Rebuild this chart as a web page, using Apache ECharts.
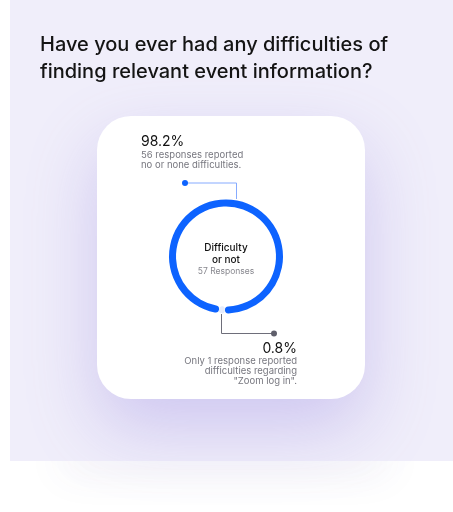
<!DOCTYPE html>
<html><head><meta charset="utf-8">
<script src="https://cdn.jsdelivr.net/npm/echarts@6/dist/echarts.min.js"></script>
<style>html,body{margin:0;padding:0;background:#fff}#c{width:453px;height:512px}</style>
</head><body><div id="c"></div>
<script>
const titleLines = ['Have you ever had any difficulties of', 'finding relevant event information?'];
const categories = ['No or none difficulties', 'Difficulty ("Zoom log in")'];
const responses = [56, 1];
const percentLabels = ['98.2%', '0.8%'];
const topNote = ['56 responses reported', 'no or none difficulties.'];
const bottomNote = ['Only 1 response reported', 'difficulties regarding', '"Zoom log in".'];
const centerTitle = ['Difficulty', 'or not'];
const centerSub = '57 Responses';

const chart = echarts.init(document.getElementById('c'), null, {renderer: 'canvas'});
const F = 'Inter, "Noto Sans", sans-serif';
function txt(t, x, y, font, fill, align) {
  return {type: 'text', z: 6, style: {text: t, x: x, y: y, font: font + ' ' + F, fill: fill, align: align || 'left', verticalAlign: 'middle'}};
}
const g = [
  {type: 'rect', z: -20, shape: {x: 60, y: 440, width: 330, height: 20, r: 10},
    style: {fill: 'rgba(255,255,255,1)', shadowBlur: 40, shadowColor: 'rgba(90,80,140,0.10)', shadowOffsetY: 10}},
  {type: 'rect', z: -10, shape: {x: 10, y: 0, width: 443, height: 461}, style: {fill: '#f0eefa'}},
  {type: 'rect', z: -5, shape: {x: 97, y: 116, width: 268, height: 283, r: 34},
    style: {fill: '#ffffff', shadowBlur: 70, shadowColor: 'rgba(130,110,220,0.30)', shadowOffsetY: 30}},
  {type: 'polyline', z: 5, shape: {points: [[185, 183], [236.5, 183], [236.5, 199]]},
    style: {stroke: '#86abff', lineWidth: 1, fill: null}},
  {type: 'circle', z: 6, shape: {cx: 185, cy: 183, r: 3}, style: {fill: '#0d63ff'}},
  {type: 'polyline', z: 5, shape: {points: [[221.5, 314], [221.5, 333.5], [274, 333.5]]},
    style: {stroke: '#6e6e7a', lineWidth: 1, fill: null}},
  {type: 'circle', z: 6, shape: {cx: 274, cy: 333.5, r: 3}, style: {fill: '#5f5f6b'}}
];
titleLines.forEach((t, i) => g.push(txt(t, 40, 45 + i * 26.7, '500 20px', '#141414')));
g.push(txt(percentLabels[0], 141, 142, '400 14px', '#111'));
topNote.forEach((t, i) => g.push(txt(t, 141, 155 + i * 10.3, '400 9.5px', '#77777f')));
g.push(txt(percentLabels[1], 297, 349, '400 14px', '#111', 'right'));
bottomNote.forEach((t, i) => g.push(txt(t, 297, 361.5 + i * 10, '400 9.5px', '#77777f', 'right')));
centerTitle.forEach((t, i) => g.push(txt(t, 226, 248.3 + i * 11.7, '500 10px', '#111', 'center')));
g.push(txt(centerSub, 226, 271, '400 8.5px', '#88888f', 'center'));

chart.setOption({
  backgroundColor: '#ffffff',
  animation: false,
  graphic: g,
  series: [{
    type: 'pie',
    center: [226, 256.5],
    radius: [50, 57],
    startAngle: 262.5,
    clockwise: true,
    label: {show: false},
    labelLine: {show: false},
    emphasis: {disabled: true},
    itemStyle: {borderRadius: 4},
    data: categories.map((c, i) => ({
      name: c, value: responses[i],
      itemStyle: {color: i === 0 ? '#0d63ff' : '#e4ebfb'}
    }))
  }]
});
</script></body></html>
